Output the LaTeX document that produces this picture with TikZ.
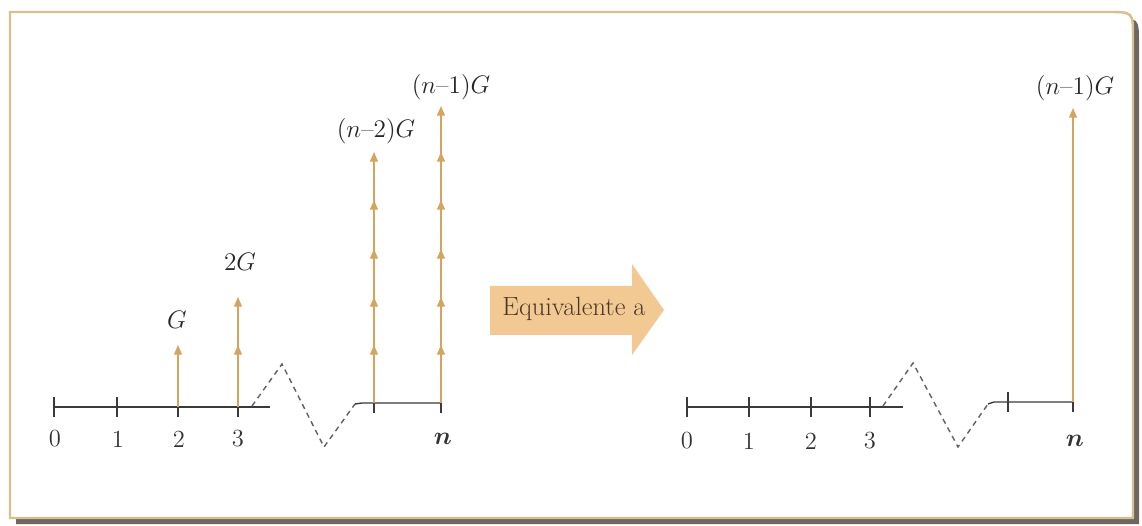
\documentclass[tikz,border=0pt]{standalone}
\usepackage{amsmath}
\usetikzlibrary{arrows.meta}
\definecolor{frametan}{HTML}{D9BF8E}
\definecolor{shadowc}{HTML}{6E6660}
\definecolor{gold}{HTML}{D4A55E}
\definecolor{axisc}{HTML}{3A3A3A}
\definecolor{bigarrow}{HTML}{F3C993}
\definecolor{bigtext}{HTML}{4A3826}
\tikzset{
  axisline/.style={draw=axisc, line width=0.8pt},
  tickline/.style={draw=axisc, line width=0.8pt},
  zig/.style={draw=axisc!80, line width=0.8pt, dash pattern=on 3pt off 2.5pt},
  cash/.style={draw=gold, line width=0.8pt, -{Triangle[width=4.5pt,length=5.5pt]}},
  lbl/.style={font=\fontsize{14.5}{17}\selectfont, inner sep=0pt, text=black!85},
  numlbl/.style={font=\fontsize{14}{17}\selectfont, inner sep=0pt, text=black!80},
}
\begin{document}
\begin{tikzpicture}[x=0.02cm,y=-0.02cm]
\useasboundingbox (0,0) rectangle (1142,526);
% shadow
\fill[shadowc] (16,18) -- (1113,18) .. controls (1139,18) .. (1139,43) -- (1139,524) -- (16,524) -- cycle;
% frame
\filldraw[fill=white, draw=frametan, line width=1.4pt] (10,12) -- (1108,12) .. controls (1133,12) .. (1133,37) -- (1133,518) -- (10,518) -- cycle;

% ---------- left timeline ----------
\coordinate (L0) at (54,407);
\coordinate (L1) at (117,407);
\coordinate (L2) at (178,407);
\coordinate (L3) at (238,407);
\coordinate (Lend) at (270,407);
\coordinate (Lz0) at (252,406);
\coordinate (Lz1) at (282,364);
\coordinate (Lz2) at (324,447);
\coordinate (Lz3) at (355,404);
\coordinate (Ls) at (362,403);
\coordinate (Lnm1) at (374,403);
\coordinate (Ln) at (441,403);
\draw[axisline] (L0) -- (Lend);
\draw[zig] (Lz0) -- (Lz1) -- (Lz2) -- (Lz3);
\draw[axisline] (Lz3) -- (Ls) -- (Ln);
\foreach \p in {L0,L1,L2,L3} \draw[tickline] ([yshift=0.2cm]\p) -- ([yshift=-0.2cm]\p);
\foreach \p in {Lnm1,Ln} \draw[tickline] ([yshift=0.2cm]\p) -- ([yshift=-0.2cm]\p);
\node[numlbl] (l0) at (55,439) {0};
\node[numlbl] (l1) at (118,439) {1};
\node[numlbl] (l2) at (179,439) {2};
\node[numlbl] (l3) at (238,439) {3};
\node[numlbl] (ln) at (443,439) {$\boldsymbol{n}$};

% cash flow arrows left
\draw[cash] (L2) -- (178,345);
\draw[cash] (L3) -- (238,345);
\draw[cash] (238,353) -- (238,297);
\foreach \a/\b in {403/345,353/297,305/249,257/200,208/152}
  \draw[cash] (374,\a) -- (374,\b);
\foreach \a/\b in {403/345,353/297,305/249,257/200,208/152,160/106}
  \draw[cash] (441,\a) -- (441,\b);
\node[lbl] (g1) at (177,320) {$G$};
\node[lbl] (g2) at (240,262) {$2G$};
\node[lbl] (g3) at (376,131) {$(n\text{--}2)G$};
\node[lbl] (g4) at (451,87) {$(n\text{--}1)G$};

% ---------- big arrow ----------
\fill[bigarrow] (490,286) -- (632,286) -- (632,264) -- (664,310) -- (632,355) -- (632,335) -- (490,335) -- cycle;
\node[font=\fontsize{15}{17}\selectfont, text=bigtext, inner sep=0pt] (eq) at (574,309) {Equivalente a};

% ---------- right timeline ----------
\coordinate (R0) at (687,407);
\coordinate (R1) at (749,407);
\coordinate (R2) at (811,407);
\coordinate (R3) at (870,407);
\coordinate (Rend) at (903,407);
\coordinate (Rz0) at (883,406);
\coordinate (Rz1) at (913,363);
\coordinate (Rz2) at (958,447);
\coordinate (Rz3) at (988,404);
\coordinate (Rs) at (994,402);
\coordinate (Rnm1) at (1008,402);
\coordinate (Rn) at (1073,402);
\draw[axisline] (R0) -- (Rend);
\draw[zig] (Rz0) -- (Rz1) -- (Rz2) -- (Rz3);
\draw[axisline] (Rz3) -- (Rs) -- (Rn);
\foreach \p in {R0,R1,R2,R3} \draw[tickline] ([yshift=0.2cm]\p) -- ([yshift=-0.2cm]\p);
\foreach \p in {Rnm1,Rn} \draw[tickline] ([yshift=0.2cm]\p) -- ([yshift=-0.2cm]\p);
\node[numlbl] (r0) at (687,441) {0};
\node[numlbl] (r1) at (749,441) {1};
\node[numlbl] (r2) at (811,441) {2};
\node[numlbl] (r3) at (870,441) {3};
\node[numlbl] (rn) at (1075,441) {$\boldsymbol{n}$};
\draw[cash] (Rn) -- (1073,108);
\node[lbl] (gr) at (1075,88) {$(n\text{--}1)G$};
\end{tikzpicture}
\end{document}
